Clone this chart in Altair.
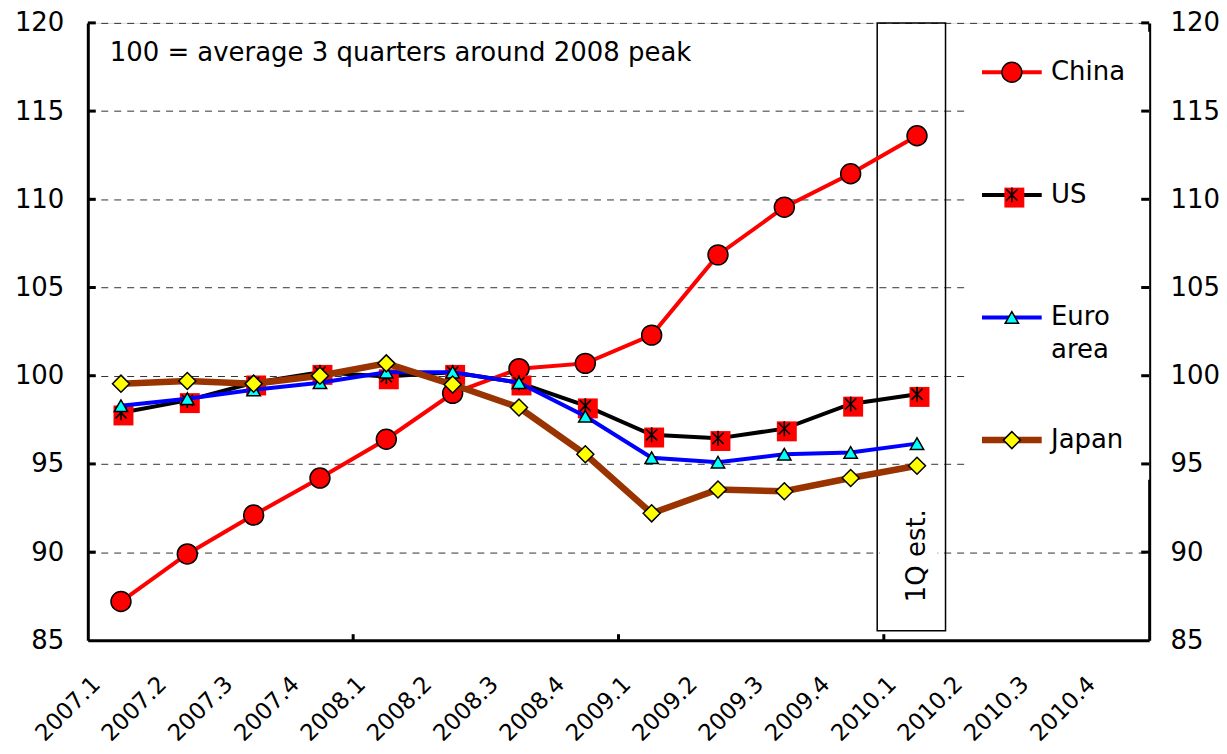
import altair as alt
import pandas as pd

# ---------------- data ----------------
quarters = ["2007.1", "2007.2", "2007.3", "2007.4",
            "2008.1", "2008.2", "2008.3", "2008.4",
            "2009.1", "2009.2", "2009.3", "2009.4",
            "2010.1", "2010.2", "2010.3", "2010.4"]
series_names = ["China", "US", "Euro area", "Japan"]
china = [87.2, 89.9, 92.1, 94.2, 96.4, 99.0, 100.4, 100.7, 102.3, 106.85, 109.55, 111.45, 113.6]
us = [97.9, 98.6, 99.6, 100.2, 99.95, 100.2, 99.6, 98.3, 96.65, 96.45, 97.0, 98.4, 98.95]
euro = [98.3, 98.7, 99.2, 99.6, 100.2, 100.2, 99.6, 97.7, 95.35, 95.1, 95.55, 95.65, 96.15]
japan = [99.55, 99.7, 99.55, 100.0, 100.7, 99.5, 98.2, 95.55, 92.2, 93.55, 93.45, 94.2, 94.9]
y_ticks = [85, 90, 95, 100, 105, 110, 115, 120]
annotation = "100 = average 3 quarters around 2008 peak"
estimate_label = "1Q est."
estimate_quarter = "2010.1"

FONT = "DejaVu Sans"
W, H = 1064, 619

rows = []
for name, vals in zip(series_names, [china, us, euro, japan]):
    for i, v in enumerate(vals):
        rows.append({"series": name, "quarter": quarters[i], "x": i + 0.5, "value": v})
df = pd.DataFrame(rows)

# ---------------- scales & axes ----------------
n_q = len(quarters)
xscale = alt.Scale(domain=[0, n_q], nice=False, zero=False)
yscale = alt.Scale(domain=[y_ticks[0], y_ticks[-1]], nice=False, zero=False)

label_expr = "[" + ",".join("'%s'" % q for q in quarters) + "][floor(datum.value)]"
xaxis = alt.Axis(values=[i + 0.5 for i in range(n_q)], labelExpr=label_expr,
                 labelAngle=-45, labelAlign="right", labelBaseline="middle",
                 labelFontSize=23, labelPadding=40, labelOffset=-25,
                 labelOverlap=False, labelFlush=False, ticks=False, grid=False,
                 domainColor="black", domainWidth=3, title=None,
                 labelColor="black", labelFont=FONT)
yaxis = alt.Axis(values=y_ticks, grid=True, gridDash=[7, 6], gridColor="#333333",
                 gridWidth=1, ticks=False, domainColor="black", domainWidth=3,
                 labelFontSize=26, labelPadding=24, title=None, labelColor="black",
                 labelFont=FONT)
yaxis_r = alt.Axis(values=y_ticks, orient="right", grid=False, ticks=False,
                   domainColor="black", domainWidth=3, labelFontSize=26,
                   labelPadding=21, title=None, labelColor="black", labelFont=FONT)


def X(f):
    return alt.X(f, type="quantitative", scale=xscale, axis=xaxis)


def Y(f):
    return alt.Y(f, type="quantitative", scale=yscale, axis=yaxis)


ASTERISK = "M0,-1L0,1M-0.75,-0.75L0.75,0.75M-0.75,0.75L0.75,-0.75"
styles = {
    "China": dict(color="#FF0000", width=4,
                  markers=[dict(shape="circle", filled=True, color="#FF0000",
                                stroke="black", strokeWidth=1.5, size=400)]),
    "US": dict(color="#000000", width=4,
               markers=[dict(shape="square", filled=True, color="#FF0000",
                             strokeWidth=0, size=400, xOffset=2.5, yOffset=2.7),
                        dict(shape=ASTERISK, filled=False, color="black",
                             strokeWidth=1.6, size=225)]),
    "Euro area": dict(color="#0000FF", width=4,
                      markers=[dict(shape="triangle-up", filled=True, color="#00FFFF",
                                    stroke="black", strokeWidth=1.5, size=180)]),
    "Japan": dict(color="#993300", width=6.5,
                  markers=[dict(shape="diamond", filled=True, color="#FFFF00",
                                stroke="black", strokeWidth=1.5, size=290)]),
}

layers = []

# legend background (hides gridlines behind legend)
legend_bg = pd.DataFrame({"x0": [13.23], "x1": [n_q], "y0": [94.1], "y1": [119.5]})
layers.append(alt.Chart(legend_bg).mark_rect(color="white").encode(
    x=X("x0"), x2="x1", y=Y("y0"), y2="y1"))

# estimate box
ei = quarters.index(estimate_quarter)
box = pd.DataFrame({"x0": [ei - 0.1], "x1": [ei + 0.93], "y0": [85.55], "y1": [y_ticks[-1]]})
layers.append(alt.Chart(box).mark_rect(fillOpacity=0, stroke="black", strokeWidth=1.5).encode(
    x=X("x0"), x2="x1", y=Y("y0"), y2="y1"))
txt_bg = pd.DataFrame({"x0": [ei - 0.06], "x1": [ei + 0.81], "y0": [87.0], "y1": [92.6]})
layers.append(alt.Chart(txt_bg).mark_rect(color="white").encode(
    x=X("x0"), x2="x1", y=Y("y0"), y2="y1"))
est = pd.DataFrame({"x": [ei + 0.5], "y": [89.8], "t": [estimate_label]})
layers.append(alt.Chart(est).mark_text(angle=270, fontSize=26, font=FONT, color="black",
                                       align="center", baseline="middle").encode(
    x=X("x"), y=Y("y"), text="t:N"))

# annotation
ann = pd.DataFrame({"x": [0.33], "y": [118.3], "t": [annotation]})
layers.append(alt.Chart(ann).mark_text(fontSize=26, font=FONT, color="black",
                                       align="left", baseline="middle").encode(
    x=X("x"), y=Y("y"), text="t:N"))

# series
for name in series_names:
    st = styles[name]
    d = df[df["series"] == name]
    layers.append(alt.Chart(d).mark_line(color=st["color"], strokeWidth=st["width"]).encode(
        x=X("x"), y=Y("value")))
    for m in st["markers"]:
        layers.append(alt.Chart(d).mark_point(opacity=1, **m).encode(x=X("x"), y=Y("value")))

# legend
for k, name in enumerate(series_names):
    st = styles[name]
    ly = 117.2 - 6.95 * k
    ld = pd.DataFrame({"x0": [13.48], "x1": [14.38], "xm": [13.93], "y": [ly]})
    layers.append(alt.Chart(ld).mark_rule(color=st["color"], strokeWidth=st["width"]).encode(
        x=X("x0"), x2="x1", y=Y("y")))
    for m in st["markers"]:
        layers.append(alt.Chart(ld).mark_point(opacity=1, **m).encode(x=X("xm"), y=Y("y")))
    lines = name.split(" ")
    lt = pd.DataFrame({"x": [14.52] * len(lines),
                       "y": [ly - 1.87 * j for j in range(len(lines))],
                       "t": lines})
    layers.append(alt.Chart(lt).mark_text(fontSize=26, font=FONT, color="black",
                                          align="left", baseline="middle").encode(
        x=X("x"), y=Y("y"), text="t:N"))

# inward ticks
lt_df = pd.DataFrame({"y": y_ticks[1:], "x0": [0] * 7, "x1": [0.12] * 7})
layers.append(alt.Chart(lt_df).mark_rule(color="black", strokeWidth=3).encode(
    x=X("x0"), x2="x1", y=Y("y")))
year_bounds = [i for i in range(4, n_q, 4)]
bt_df = pd.DataFrame({"x": year_bounds, "y0": [85] * len(year_bounds),
                      "y1": [85.35] * len(year_bounds)})
layers.append(alt.Chart(bt_df).mark_rule(color="black", strokeWidth=3).encode(
    x=X("x"), y=Y("y0"), y2="y1"))

main = alt.layer(*layers)

rt_df = pd.DataFrame({"y": y_ticks[1:], "x0": [n_q - 0.12] * 7, "x1": [n_q] * 7})
right = alt.Chart(rt_df).mark_rule(color="black", strokeWidth=3).encode(
    x=X("x0"), x2="x1",
    y=alt.Y("y", type="quantitative", scale=yscale, axis=yaxis_r))

chart = alt.layer(main, right).resolve_scale(y="independent").properties(
    width=W, height=H,
    padding={"left": 80, "top": 14, "right": 70, "bottom": 108},
    autosize=alt.AutoSizeParams(type="none"),
).configure_view(stroke=None).configure(font=FONT)

chart.save("out.html", embed_options={"renderer": "svg", "actions": False})
